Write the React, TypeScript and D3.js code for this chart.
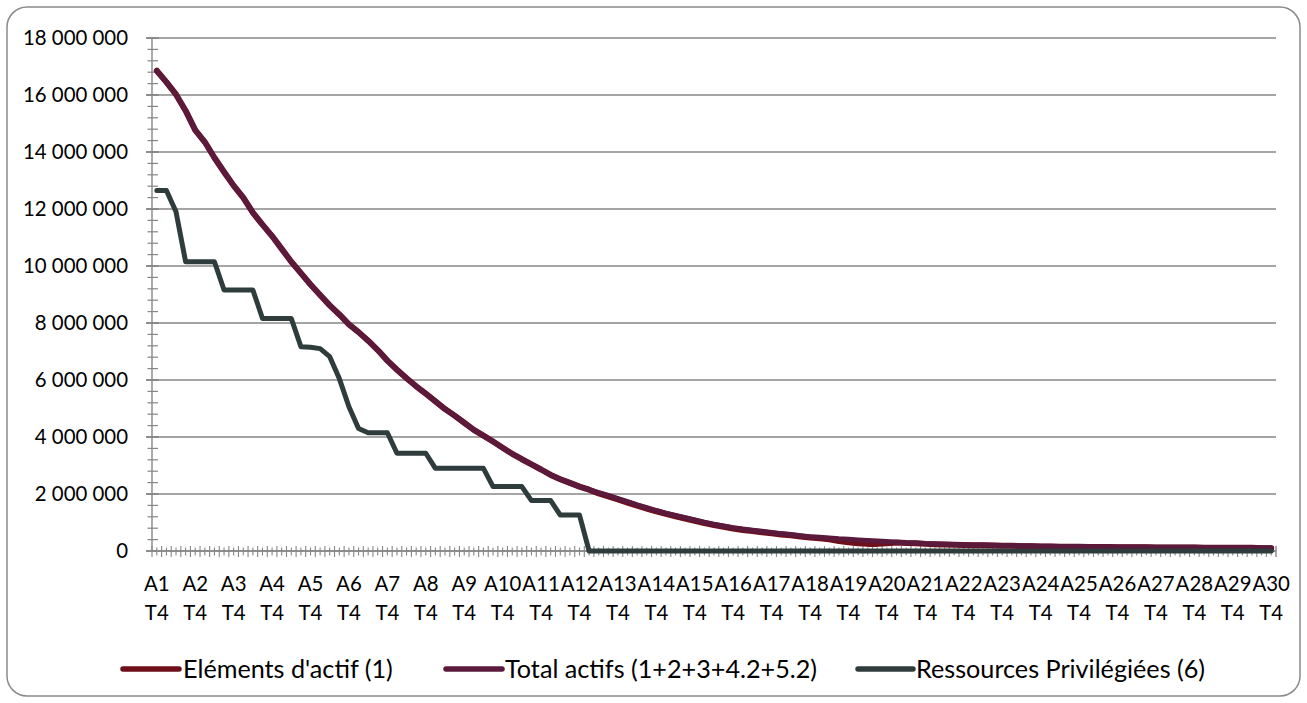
import React from "react";
import * as d3 from "d3";

// Values in millions of euros
const years = d3.range(1, 31).map((y) => `A${y}`);
const quarters = ["T1", "T2", "T3", "T4"];
const categories: string[] = ["A1 T4"].concat(
  years.slice(1).flatMap((y) => quarters.map((q) => `${y} ${q}`))
);

const elementsActif = [
  16.85, 16.45, 16.02, 15.45, 14.77, 14.35, 13.80, 13.30, 12.82, 12.40,
  11.87, 11.45, 11.05, 10.60, 10.15, 9.75, 9.35, 8.98, 8.62, 8.30,
  7.95, 7.68, 7.38, 7.05, 6.68, 6.36, 6.06, 5.78, 5.52, 5.25,
  4.98, 4.75, 4.50, 4.25, 4.05, 3.84, 3.62, 3.41, 3.22, 3.04,
  2.86, 2.67, 2.52, 2.39, 2.26, 2.15, 2.02, 1.92, 1.81, 1.70,
  1.59, 1.49, 1.39, 1.30, 1.22, 1.14, 1.06, 0.98, 0.91, 0.85,
  0.79, 0.74, 0.70, 0.66, 0.62, 0.58, 0.55, 0.51, 0.47, 0.45,
  0.41, 0.35, 0.31, 0.27, 0.25, 0.25, 0.27, 0.30, 0.28, 0.27,
  0.25, 0.24, 0.23, 0.22, 0.21, 0.20, 0.20, 0.19, 0.18, 0.18,
  0.17, 0.17, 0.16, 0.16, 0.15, 0.15, 0.15, 0.14, 0.14, 0.14,
  0.13, 0.13, 0.13, 0.13, 0.12, 0.12, 0.12, 0.12, 0.12, 0.11,
  0.11, 0.11, 0.11, 0.11, 0.11, 0.10, 0.10,
];

const totalActifs = [
  16.85, 16.45, 16.02, 15.45, 14.77, 14.35, 13.80, 13.30, 12.82, 12.40,
  11.87, 11.45, 11.05, 10.60, 10.15, 9.75, 9.35, 8.98, 8.62, 8.30,
  7.95, 7.68, 7.38, 7.05, 6.68, 6.36, 6.06, 5.78, 5.52, 5.25,
  4.98, 4.75, 4.50, 4.25, 4.05, 3.84, 3.62, 3.41, 3.22, 3.04,
  2.86, 2.67, 2.52, 2.39, 2.26, 2.15, 2.05, 1.95, 1.84, 1.73,
  1.62, 1.52, 1.42, 1.33, 1.25, 1.17, 1.09, 1.01, 0.94, 0.88,
  0.82, 0.77, 0.73, 0.69, 0.65, 0.61, 0.58, 0.54, 0.50, 0.48,
  0.46, 0.43, 0.41, 0.39, 0.37, 0.35, 0.33, 0.31, 0.29, 0.28,
  0.26, 0.25, 0.24, 0.23, 0.22, 0.21, 0.21, 0.20, 0.19, 0.19,
  0.18, 0.18, 0.17, 0.17, 0.16, 0.16, 0.16, 0.15, 0.15, 0.15,
  0.14, 0.14, 0.14, 0.14, 0.13, 0.13, 0.13, 0.13, 0.13, 0.12,
  0.12, 0.12, 0.12, 0.12, 0.12, 0.11, 0.11,
];

const ressourcesPrivilegiees = [
  12.65, 12.65, 11.90, 10.15, 10.15, 10.15, 10.15, 9.16, 9.16, 9.16,
  9.16, 8.16, 8.16, 8.16, 8.16, 7.17, 7.15, 7.10, 6.82, 6.05,
  5.06, 4.30, 4.15, 4.15, 4.15, 3.43, 3.43, 3.43, 3.43, 2.90,
  2.90, 2.90, 2.90, 2.90, 2.90, 2.26, 2.26, 2.26, 2.26, 1.77,
  1.77, 1.77, 1.26, 1.26, 1.26, 0, 0, 0, 0, 0,
  0, 0, 0, 0, 0, 0, 0, 0, 0, 0,
  0, 0, 0, 0, 0, 0, 0, 0, 0, 0,
  0, 0, 0, 0, 0, 0, 0, 0, 0, 0,
  0, 0, 0, 0, 0, 0, 0, 0, 0, 0,
  0, 0, 0, 0, 0, 0, 0, 0, 0, 0,
  0, 0, 0, 0, 0, 0, 0, 0, 0, 0,
  0, 0, 0, 0, 0, 0, 0,
];

const yTicks = [0, 2, 4, 6, 8, 10, 12, 14, 16, 18];
const seriesNames = ["Eléments d'actif (1)", "Total actifs (1+2+3+4.2+5.2)", "Ressources Privilégiées (6)"];
const seriesColors = ["#6e0f1a", "#5b1a3b", "#2f3c3c"];

const W = 1307;
const H = 703;
const FONT = "Lato, 'Open Sans', sans-serif";

function fmt(v: number) {
  const n = Math.round(v * 1e6);
  return String(n).replace(/\B(?=(\d{3})+(?!\d))/g, " ");
}

export default function App() {
  const left = 152;
  const right = 1276;
  const top = 38;
  const bottom = 551;

  const x = d3.scaleBand<string>().domain(categories).range([left, right]).padding(0);
  const y = d3.scaleLinear().domain([0, 18]).range([bottom, top]);
  const cx = (i: number) => (x(categories[i]) as number) + x.bandwidth() / 2;

  const line = d3
    .line<number>()
    .x((_, i) => cx(i))
    .y((d) => y(d));

  const minorY = d3.range(0, 18.0001, 0.4);
  const gridColor = "#878787";

  const legend = [
    { x1: 123, x2: 179, tx: 183 },
    { x1: 446, x2: 502, tx: 505 },
    { x1: 858, x2: 913, tx: 916 },
  ];

  return (
    <svg
      width={W}
      height={H}
      style={{ position: "absolute", left: 0, top: 0, background: "#fff" }}
      fontFamily={FONT}
    >
      <rect x={7} y={7} width={W - 14} height={H - 14} rx={20} ry={20} fill="#fff" stroke="#8a8a8a" strokeWidth={1.5} />

      {/* gridlines */}
      {yTicks.map((t) => (
        <line key={"g" + t} x1={left - 6} x2={right} y1={y(t)} y2={y(t)} stroke={gridColor} strokeWidth={1.4} />
      ))}

      {/* y axis */}
      <line x1={left} x2={left} y1={top} y2={bottom} stroke={gridColor} strokeWidth={1.4} />
      {minorY.map((t, i) => (
        <line key={"my" + i} x1={left - 4.5} x2={left + 6} y1={y(t)} y2={y(t)} stroke={gridColor} strokeWidth={1.2} />
      ))}
      {yTicks.map((t) => (
        <line key={"My" + t} x1={left - 6} x2={left + 7} y1={y(t)} y2={y(t)} stroke={gridColor} strokeWidth={1.4} />
      ))}
      {yTicks.map((t) => (
        <text key={"ty" + t} x={128} y={y(t)} dy="0.35em" textAnchor="end" fontSize={20.4} fill="#000">
          {fmt(t)}
        </text>
      ))}

      {/* x axis */}
      <line x1={left} x2={right} y1={bottom} y2={bottom} stroke={gridColor} strokeWidth={1.4} />
      {categories.map((c, i) => {
        const x0 = x(c) as number;
        return (
          <g key={"xt" + i}>
            <line x1={x0} x2={x0} y1={bottom - 5} y2={bottom + 6} stroke={gridColor} strokeWidth={1.1} />
            <line x1={x0 + x.bandwidth() / 2} x2={x0 + x.bandwidth() / 2} y1={bottom - 3.5} y2={bottom + 4.5} stroke={gridColor} strokeWidth={1.1} />
          </g>
        );
      })}
      <line x1={right} x2={right} y1={bottom - 5} y2={bottom + 6} stroke={gridColor} strokeWidth={1.4} />
      {categories.map((c, i) =>
        c.endsWith("T4") ? (
          <text key={"tx" + i} x={cx(i)} y={583.5} dy="0.35em" textAnchor="middle" fontSize={20.4} fill="#000">
            <tspan x={cx(i)}>{c.split(" ")[0]}</tspan>
            <tspan x={cx(i)} dy={29.5}>{c.split(" ")[1]}</tspan>
          </text>
        ) : null
      )}

      {/* series */}
      <path d={line(elementsActif) || ""} fill="none" stroke={seriesColors[0]} strokeWidth={6} strokeLinejoin="round" strokeLinecap="round" />
      <path d={line(totalActifs) || ""} fill="none" stroke={seriesColors[1]} strokeWidth={5} strokeLinejoin="round" strokeLinecap="round" />
      <path d={line(ressourcesPrivilegiees) || ""} fill="none" stroke={seriesColors[2]} strokeWidth={5} strokeLinejoin="round" strokeLinecap="round" />

      {/* legend */}
      {legend.map((l, i) => (
        <g key={"lg" + i}>
          <line x1={l.x1} x2={l.x2} y1={669} y2={669} stroke={seriesColors[i]} strokeWidth={5.5} strokeLinecap="round" />
          <text x={l.tx} y={669} dy="0.35em" fontSize={25.2} fill="#000">
            {seriesNames[i]}
          </text>
        </g>
      ))}
    </svg>
  );
}
